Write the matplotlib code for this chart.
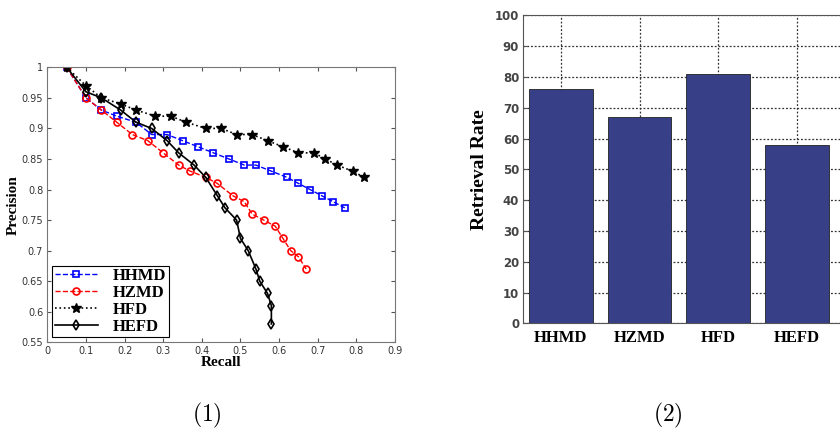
import numpy as np
import matplotlib.pyplot as plt

plt.rcParams['mathtext.fontset'] = 'cm'

# Curva precision-recall (1)
rec_hhmd = [0.05, 0.10, 0.14, 0.18, 0.23, 0.27, 0.31, 0.35, 0.39, 0.43, 0.47,
            0.51, 0.54, 0.58, 0.62, 0.65, 0.68, 0.71, 0.74, 0.77]
pre_hhmd = [1.00, 0.95, 0.93, 0.92, 0.91, 0.89, 0.89, 0.88, 0.87, 0.86, 0.85,
            0.84, 0.84, 0.83, 0.82, 0.81, 0.80, 0.79, 0.78, 0.77]

rec_hzmd = [0.05, 0.10, 0.14, 0.18, 0.22, 0.26, 0.30, 0.34, 0.37, 0.41, 0.44,
            0.48, 0.51, 0.53, 0.56, 0.59, 0.61, 0.63, 0.65, 0.67]
pre_hzmd = [1.00, 0.95, 0.93, 0.91, 0.89, 0.88, 0.86, 0.84, 0.83, 0.82, 0.81,
            0.79, 0.78, 0.76, 0.75, 0.74, 0.72, 0.70, 0.69, 0.67]

rec_hfd = [0.05, 0.10, 0.14, 0.19, 0.23, 0.28, 0.32, 0.36, 0.41, 0.45, 0.49,
           0.53, 0.57, 0.61, 0.65, 0.69, 0.72, 0.75, 0.79, 0.82]
pre_hfd = [1.00, 0.97, 0.95, 0.94, 0.93, 0.92, 0.92, 0.91, 0.90, 0.90, 0.89,
           0.89, 0.88, 0.87, 0.86, 0.86, 0.85, 0.84, 0.83, 0.82]

rec_hefd = [0.05, 0.10, 0.14, 0.19, 0.23, 0.27, 0.31, 0.34, 0.38, 0.41, 0.44,
            0.46, 0.49, 0.50, 0.52, 0.54, 0.55, 0.57, 0.58, 0.58]
pre_hefd = [1.00, 0.96, 0.95, 0.93, 0.91, 0.90, 0.88, 0.86, 0.84, 0.82, 0.79,
            0.77, 0.75, 0.72, 0.70, 0.67, 0.65, 0.63, 0.61, 0.58]

# Taxa de recuperação (2)
metodos = ['HHMD', 'HZMD', 'HFD', 'HEFD']
taxa = [76, 67, 81, 58]

W, H = 840, 432
fig = plt.figure(figsize=(8.4, 4.32), dpi=100)

serif_b = dict(family='Liberation Serif', weight='bold')
tick_col = '#333333'

# ---------- grafico (1)
ax1 = fig.add_axes([47.3 / W, 1 - 342.3 / H, (395 - 47.3) / W, (342.3 - 67.3) / H])
ax1.plot(rec_hhmd, pre_hhmd, 'b--', marker='s', mfc='none', mec='b', ms=5, mew=1.2, lw=1, label='HHMD')
ax1.plot(rec_hzmd, pre_hzmd, 'r--', marker='o', mfc='none', mec='r', ms=5, mew=1.2, lw=1, label='HZMD')
ax1.plot(rec_hfd, pre_hfd, 'k:', marker='*', ms=7, lw=1.2, label='HFD')
ax1.plot(rec_hefd, pre_hefd, 'k-', marker='d', mfc='none', mec='k', ms=5, mew=1.2, lw=1.2, label='HEFD')
ax1.set_xlim(0, 0.9)
ax1.set_ylim(0.55, 1)
ax1.set_xticks(np.arange(0, 0.91, 0.1))
ax1.set_xticklabels(['0'] + ['%.1f' % v for v in np.arange(0.1, 0.91, 0.1)])
ax1.set_yticks(np.arange(0.55, 1.001, 0.05))
ax1.set_yticklabels(['%g' % round(v, 2) for v in np.arange(0.55, 1.001, 0.05)])
ax1.tick_params(direction='in', top=True, right=True, length=3, labelsize=7,
                colors='#555555', labelcolor=tick_col, pad=3)
for s in ax1.spines.values():
    s.set_color('#777777')
ax1.set_xlabel('Recall', fontsize=11, labelpad=0, **serif_b)
ax1.set_ylabel('Precision', fontsize=11, labelpad=1, **serif_b)
leg = ax1.legend(loc='lower left', prop=dict(family='Liberation Serif', weight='bold', size=12),
                 fancybox=False, edgecolor='k', framealpha=1, handlelength=2.6,
                 borderaxespad=0.3, labelspacing=0.05, borderpad=0.15, handletextpad=0.9)
leg.get_frame().set_linewidth(0.8)

# ---------- grafico (2)
ax2 = fig.add_axes([523.3 / W, 1 - 323.3 / H, 330 / W, (323.3 - 15.3) / H])
x = np.arange(1, len(metodos) + 1)
ax2.bar(x, taxa, width=0.81, color='#373f86', edgecolor='#222222', lw=0.6, zorder=3)
ax2.set_xlim(0.52, 4.72)
ax2.set_ylim(0, 100)
ax2.set_yticks(np.arange(0, 101, 10))
ax2.set_xticks(x)
ax2.set_xticklabels(metodos, fontsize=12, **serif_b)
ax2.grid(True, ls=(0, (1.5, 1.5)), color='#333333', lw=0.9, zorder=0)
ax2.tick_params(axis='y', direction='in', length=3, labelsize=8.5, colors='#555555',
                labelcolor='#444444', pad=3)
for lab in ax2.get_yticklabels():
    lab.set_fontweight('bold')
ax2.tick_params(axis='x', length=0, pad=5)
for s in ax2.spines.values():
    s.set_color('#555555')
ax2.set_ylabel('Retrieval Rate', fontsize=14, labelpad=5, **serif_b)

# legendas (1) e (2)
fig.text(207 / W, 1 - 415 / H, r'$(1)$', fontsize=17, ha='center', va='center')
fig.text(668 / W, 1 - 415 / H, r'$(2)$', fontsize=17, ha='center', va='center')

fig.savefig('out.png', dpi=100)
